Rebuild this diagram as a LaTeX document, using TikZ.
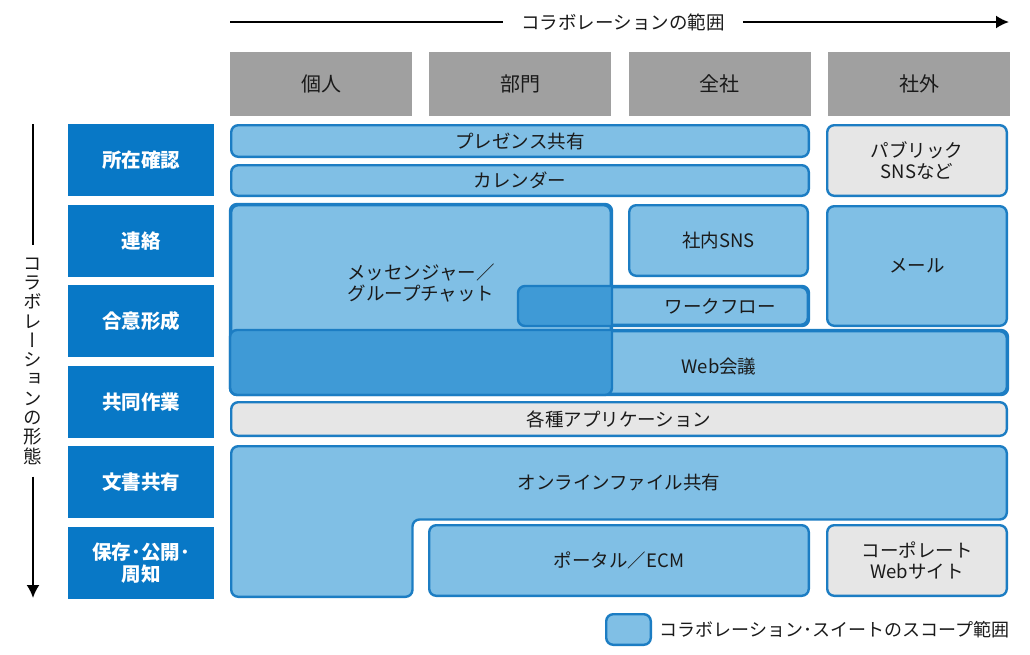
\documentclass[tikz,border=0pt]{standalone}
\usepackage{fontspec}
\setmainfont{Noto Sans CJK JP}
\newfontfamily\tate[RawFeature=+vert]{Noto Sans CJK JP}
\usepackage{tikz}
\usetikzlibrary{positioning,arrows.meta}
\definecolor{hdrgray}{HTML}{A0A0A0}
\definecolor{rowblue}{HTML}{0878C6}
\definecolor{edgeblue}{HTML}{1C7DC3}
\definecolor{suitefill}{HTML}{80BFE5}
\definecolor{overlapfill}{HTML}{3F9AD6}
\definecolor{otherfill}{HTML}{E6E6E6}
\definecolor{ink}{HTML}{1A1A1A}

\begin{document}
\begin{tikzpicture}[x=1pt, y=-1pt, font=\fontsize{18.5}{21}\selectfont, text=ink,
		hdr/.style={fill=hdrgray, minimum width=182pt, minimum height=64pt, inner sep=0pt, font=\fontsize{20}{22}\selectfont},
		kind/.style={fill=rowblue, text=white, minimum width=146pt, minimum height=72pt, inner sep=0pt, align=center,
			font=\fontsize{19.5}{22.5}\selectfont\bfseries},
		suite/.style={draw=edgeblue, line width=2.4pt, fill=suitefill, rounded corners=7pt, inner sep=0pt, align=center},
		other/.style={suite, fill=otherfill}]
			\useasboundingbox (0,0) rectangle (1030,654);
			% range of collaboration
			\coordinate (rangeL) at (230,22);
			\coordinate (rangeR) at (1009,22);
			\node[inner xsep=18pt] (range) at (623,22) {コラボレーションの範囲};
			\draw[line width=2pt] (rangeL) -- (range.west);
			\draw[line width=2pt, -{Latex[length=13pt, width=13pt]}] (range.east) -- (rangeR);
			% form of collaboration
			\coordinate (formT) at (33,124);
			\coordinate (formB) at (33,598);
			\node[inner xsep=0pt, inner ysep=12pt, align=center, font=\tate\fontsize{18.5}{19.3}\selectfont] (form) at (33,361)
				{コ\\ラ\\ボ\\レ\\ー\\シ\\ョ\\ン\\の\\形\\態};
			\draw[line width=2pt] (formT) -- (form.north);
			\draw[line width=2pt, -{Latex[length=13pt, width=13pt]}] (form.south) -- (formB);

			\node[hdr] (hdrSelf) at (321,84) {個人};
			\node[hdr, right = 17pt of hdrSelf] (hdrDept) {部門};
			\node[hdr, right = 17pt of hdrDept] (hdrCorp) {全社};
			\node[hdr, right = 17pt of hdrCorp] (hdrOut) {社外};

			\node[kind] (rowWhere) at (141,160) {所在確認};
			\node[kind, below = 8.2pt of rowWhere] (rowContact) {連絡};
			\node[kind, below = 8.2pt of rowContact] (rowAgree) {合意形成};
			\node[kind, below = 8.2pt of rowAgree] (rowWork) {共同作業};
			\node[kind, below = 8.2pt of rowWork] (rowDocs) {文書共有};
			\node[kind, below = 8.2pt of rowDocs] (rowKeep) {保存･公開･\\周知};

			\node[suite, minimum width=577.6pt, minimum height=31.6pt] (presence) at (520,141) {プレゼンス共有};
			\node[suite, minimum width=577.6pt, minimum height=30.6pt] (calendar) at (520,180.5) {カレンダー};
			\node[other, minimum width=179.6pt, minimum height=70.6pt] (public) at (917,160.5) {パブリック\\SNSなど};
			\node[suite, minimum width=379.6pt, minimum height=188.6pt] (msg) at (421,299.5) {};
			\node[suite, minimum width=178.6pt, minimum height=70.6pt] (sns) at (718.5,240.5) {社内SNS};
			\node[suite, minimum width=288.6pt, minimum height=37.6pt] (flow) at (663.5,306) {};
			\node[suite, minimum width=179.6pt, minimum height=119.6pt] (mail) at (917,266) {メール};
			\node[suite, minimum width=775.6pt, minimum height=62.6pt] (web) at (619,362.5) {};
			% overlaps with the messenger
			\begin{scope}
				\clip[rounded corners=7pt] (msg.south west) rectangle (msg.north east);
				\fill[overlapfill, rounded corners=7pt] (flow.south west) rectangle (flow.north east);
				\fill[overlapfill, rounded corners=7pt] (web.south west) rectangle (web.north east);
			\end{scope}
			\draw[draw=edgeblue, line width=2.4pt, rounded corners=7pt] (msg.south west) rectangle (msg.north east);
			\draw[draw=edgeblue, line width=2.4pt, rounded corners=7pt] (flow.south west) rectangle (flow.north east);
			\draw[draw=edgeblue, line width=2.4pt, rounded corners=7pt] (web.south west) rectangle (web.north east);
			\node[align=center] (msgText) at (421,283) {メッセンジャー／\\グループチャット};
			\node (flowText) at (720,306) {ワークフロー};
			\node (webText) at (719,367) {Web会議};

			\node[other, minimum width=775.6pt, minimum height=33.6pt] (apps) at (619,419) {各種アプリケーション};
			\draw[draw=edgeblue, line width=2.4pt, fill=suitefill, rounded corners=7pt]
				(231.2,446.2) -- (1006.8,446.2) -- (1006.8,519.5) -- (412.5,519.5) -- (412.5,596.8) -- (231.2,596.8) -- cycle;
			\node (files) at (619,482) {オンラインファイル共有};
			\node[suite, minimum width=379.6pt, minimum height=70.6pt] (portal) at (619,560.5) {ポータル／ECM};
			\node[other, minimum width=179.6pt, minimum height=70.6pt] (corpweb) at (917,560.5) {コーポレート\\Webサイト};

			% legend
			\node[suite, minimum width=44.6pt, minimum height=30.6pt] (key) at (628.5,629.5) {};
			\node[right = 4pt of key, font=\fontsize{18}{20}\selectfont] (keyText) {コラボレーション･スイートのスコープ範囲};
		\end{tikzpicture}
\end{document}
